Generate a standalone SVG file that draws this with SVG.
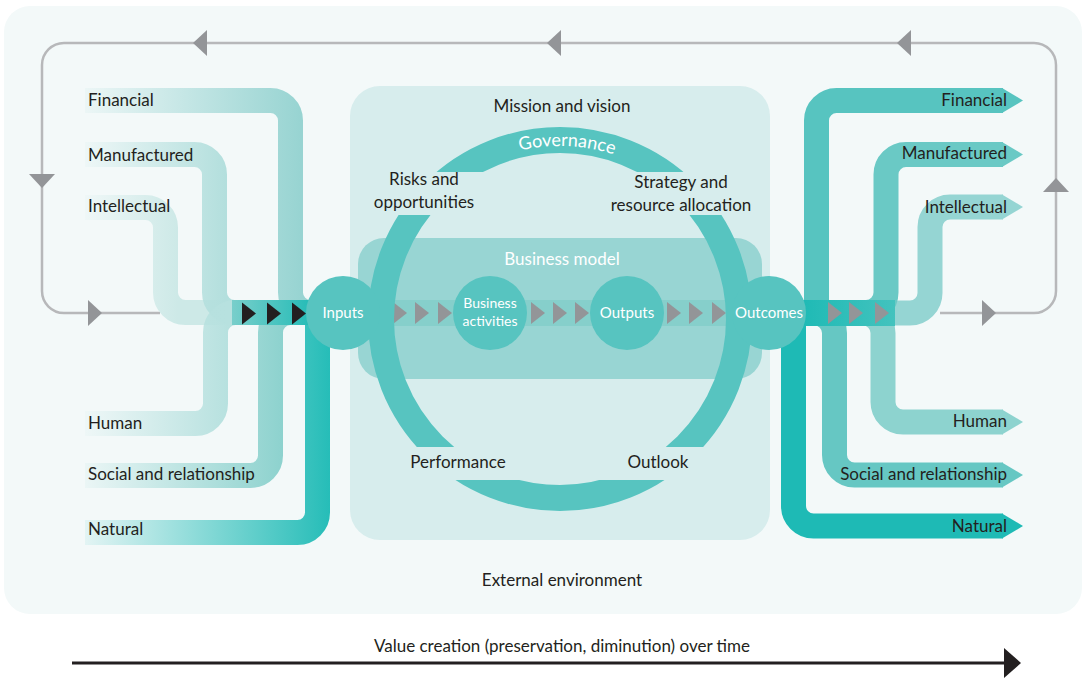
<svg xmlns="http://www.w3.org/2000/svg" width="1086" height="679" viewBox="0 0 1086 679">
<style>
.t{font-family:Lato,"Open Sans","Liberation Sans",sans-serif;font-size:17px;fill:#231f20}
.w{fill:#ffffff}
.s{font-size:15px}
.xs{font-size:14px}
.m{text-anchor:middle}
.e{text-anchor:end}
.loop{fill:none;stroke:#b7b8ba;stroke-width:2.5}
.ga{fill:#939598}
.ba{fill:#231f20}
.band{fill:none;stroke-width:25}
.node{fill:#57c4c0}
</style>
<defs>
<linearGradient id="gFin" gradientUnits="userSpaceOnUse" x1="85" y1="0" x2="300" y2="0"><stop offset="0" stop-color="#98d4d2" stop-opacity="0.08"/><stop offset="1" stop-color="#98d4d2"/></linearGradient>
<linearGradient id="gMan" gradientUnits="userSpaceOnUse" x1="85" y1="0" x2="226" y2="0"><stop offset="0" stop-color="#b3dfdd" stop-opacity="0.08"/><stop offset="1" stop-color="#b3dfdd"/></linearGradient>
<linearGradient id="gInt" gradientUnits="userSpaceOnUse" x1="85" y1="0" x2="178" y2="0"><stop offset="0" stop-color="#cde9e7" stop-opacity="0.1"/><stop offset="1" stop-color="#cde9e7"/></linearGradient>
<linearGradient id="gHum" gradientUnits="userSpaceOnUse" x1="85" y1="0" x2="228" y2="0"><stop offset="0" stop-color="#b7e1df" stop-opacity="0.08"/><stop offset="1" stop-color="#b7e1df"/></linearGradient>
<linearGradient id="gSoc" gradientUnits="userSpaceOnUse" x1="85" y1="0" x2="283" y2="0"><stop offset="0" stop-color="#8dd2ce" stop-opacity="0.08"/><stop offset="1" stop-color="#8dd2ce"/></linearGradient>
<linearGradient id="gNat" gradientUnits="userSpaceOnUse" x1="85" y1="0" x2="330" y2="0"><stop offset="0" stop-color="#26bdb8" stop-opacity="0.08"/><stop offset="1" stop-color="#26bdb8"/></linearGradient>
<linearGradient id="gInBand" gradientUnits="userSpaceOnUse" x1="200" y1="0" x2="310" y2="0"><stop offset="0" stop-color="#9ad6d3"/><stop offset="1" stop-color="#26bcb7"/></linearGradient>
<linearGradient id="gOutBand" gradientUnits="userSpaceOnUse" x1="800" y1="0" x2="900" y2="0"><stop offset="0" stop-color="#1ebab5"/><stop offset="1" stop-color="#45c3be"/></linearGradient>
<path id="tri" d="M0,-11 L14,0 L0,11Z"/>
<path id="gov" d="M387,319 A173,173 0 0 1 733,319"/>
</defs>

<rect x="4" y="6" width="1078" height="608" rx="26" fill="#f3f9f9"/>

<g id="feedback-loop">
<path class="loop" d="M160,313 H64 A22,22 0 0 1 42,291 V65 A22,22 0 0 1 64,43 H1034 A22,22 0 0 1 1056,65 V291 A22,22 0 0 1 1034,313 H940"/>
<polygon class="ga" points="193,43 207,30 207,56"/>
<polygon class="ga" points="547,43 561,30 561,56"/>
<polygon class="ga" points="897,43 911,30 911,56"/>
<polygon class="ga" points="29,174 55,174 42,188"/>
<polygon class="ga" points="1043,192 1069,192 1056,178"/>
<polygon class="ga" points="88,300 88,326 102,313"/>
<polygon class="ga" points="982,300 982,326 996,313"/>
</g>

<g id="mission-panel">
<rect x="350" y="86" width="420" height="454" rx="30" fill="#d7eded"/>
<text class="t m" x="562" y="112">Mission and vision</text>
</g>

<g id="business-model">
<rect x="358" y="238" width="404" height="141" rx="26" fill="#98d5d3"/>
<text class="t w m" x="562" y="265">Business model</text>
<rect x="385" y="300" width="370" height="26" fill="#86cfcb"/>
</g>

<g id="connectors">
<use href="#tri" class="ga" x="393" y="313"/>
<use href="#tri" class="ga" x="415" y="313"/>
<use href="#tri" class="ga" x="438" y="313"/>
<use href="#tri" class="ga" x="531" y="313"/>
<use href="#tri" class="ga" x="553" y="313"/>
<use href="#tri" class="ga" x="575" y="313"/>
<use href="#tri" class="ga" x="667" y="313"/>
<use href="#tri" class="ga" x="689" y="313"/>
<use href="#tri" class="ga" x="712" y="313"/>
</g>

<g id="governance-ring">
<circle cx="560" cy="319" r="179" fill="none" stroke="#57c4c0" stroke-width="26"/>
<rect x="370" y="172" width="380" height="43" fill="#d7eded"/>
<rect x="370" y="447" width="380" height="33" fill="#d7eded"/>
<text class="t w" style="font-size:18px"><textPath href="#gov" startOffset="51.3%" text-anchor="middle">Governance</textPath></text>
</g>

<g id="risks"><text class="t m" x="424" y="185">Risks and</text><text class="t m" x="424" y="208">opportunities</text></g>
<g id="strategy"><text class="t m" x="681" y="188">Strategy and</text><text class="t m" x="681" y="211">resource allocation</text></g>
<g id="performance"><text class="t m" x="458" y="468">Performance</text></g>
<g id="outlook"><text class="t m" x="658" y="468">Outlook</text></g>

<g id="input-capitals">
<path class="band" stroke="url(#gInt)" d="M85,207.5 H145.5 A20,20 0 0 1 165.5,227.5 V292.5 A20,20 0 0 0 185.5,312.5 H340"/>
<path class="band" stroke="url(#gMan)" d="M85,154.5 H194.5 A20,20 0 0 1 214.5,174.5 V292.5 A20,20 0 0 0 234.5,312.5 H340"/>
<path class="band" stroke="url(#gFin)" d="M85,100.5 H270.5 A20,20 0 0 1 290.5,120.5 V292.5 A20,20 0 0 0 310.5,312.5 H340"/>
<path class="band" stroke="url(#gHum)" d="M85,423.5 H195.5 A20,20 0 0 0 215.5,403.5 V332.5 A20,20 0 0 1 235.5,312.5 H340"/>
<path class="band" stroke="url(#gSoc)" d="M85,475.5 H250.5 A20,20 0 0 0 270.5,455.5 V332.5 A20,20 0 0 1 290.5,312.5 H340"/>
<path class="band" stroke="url(#gNat)" d="M85,532.5 H297.5 A20,20 0 0 0 317.5,512.5 V312"/>
<rect x="232" y="300" width="95" height="25" fill="url(#gInBand)"/>
<use href="#tri" class="ba" x="242" y="313.5"/>
<use href="#tri" class="ba" x="267" y="313.5"/>
<use href="#tri" class="ba" x="292" y="313.5"/>
<text class="t" x="88" y="106">Financial</text>
<text class="t" x="88" y="161">Manufactured</text>
<text class="t" x="88" y="212">Intellectual</text>
<text class="t" x="88" y="429">Human</text>
<text class="t" x="88" y="480">Social and relationship</text>
<text class="t" x="88" y="535">Natural</text>
</g>

<g id="output-capitals">
<path class="band" stroke="#95d5d3" d="M1003,207 H950 A20,20 0 0 0 930,227 V293 A20,20 0 0 1 910,313 H805"/>
<polygon fill="#95d5d3" points="1002,194.5 1023,207 1002,219.5"/>
<path class="band" stroke="#6ac9c5" d="M1003,154.5 H906 A20,20 0 0 0 886,174.5 V292.5 A20,20 0 0 1 866,312.5 H805"/>
<polygon fill="#6ac9c5" points="1002,142 1023,154.5 1002,167"/>
<path class="band" stroke="#57c4c0" d="M1003,100.5 H836.5 A20,20 0 0 0 816.5,120.5 V313"/>
<polygon fill="#57c4c0" points="1002,88 1023,100.5 1002,113"/>
<path class="band" stroke="#8dd3cf" d="M1003,422 H903 A20,20 0 0 1 883,402 V333 A20,20 0 0 0 863,313 H805"/>
<polygon fill="#8dd3cf" points="1002,409.5 1023,422 1002,434.5"/>
<path class="band" stroke="#66c7c3" d="M1003,475 H854.5 A20,20 0 0 1 834.5,455 V333 A20,20 0 0 0 814.5,313 H805"/>
<polygon fill="#66c7c3" points="1002,462.5 1023,475 1002,487.5"/>
<path class="band" stroke="#1ebab5" d="M1003,526 H813.5 A20,20 0 0 1 793.5,506 V313"/>
<polygon fill="#1ebab5" points="1002,513.5 1023,526 1002,538.5"/>
<rect x="800" y="300" width="95" height="26" fill="url(#gOutBand)"/>
<use href="#tri" class="ga" x="828" y="313"/>
<use href="#tri" class="ga" x="849" y="313"/>
<use href="#tri" class="ga" x="875" y="313"/>
<text class="t e" x="1007" y="106">Financial</text>
<text class="t e" x="1007" y="159">Manufactured</text>
<text class="t e" x="1007" y="213">Intellectual</text>
<text class="t e" x="1007" y="427">Human</text>
<text class="t e" x="1007" y="480">Social and relationship</text>
<text class="t e" x="1007" y="532">Natural</text>
</g>

<g id="inputs"><circle class="node" cx="343" cy="313" r="37"/><text class="t w s m" x="343" y="318">Inputs</text></g>
<g id="business-activities"><circle class="node" cx="490" cy="313" r="37"/><text class="t w xs m" x="490" y="308">Business</text><text class="t w xs m" x="490" y="326">activities</text></g>
<g id="outputs"><circle class="node" cx="627" cy="313" r="37"/><text class="t w s m" x="627" y="318">Outputs</text></g>
<g id="outcomes"><circle class="node" cx="769" cy="313" r="37"/><text class="t w s m" x="769" y="318">Outcomes</text></g>

<g id="external-environment"><text class="t m" x="562" y="586">External environment</text></g>

<g id="time-axis">
<line x1="72" y1="663" x2="1006" y2="663" stroke="#231f20" stroke-width="3"/>
<polygon class="ba" points="1004,648 1021,663 1004,678"/>
<text class="t m" x="562" y="652">Value creation (preservation, diminution) over time</text>
</g>
</svg>
